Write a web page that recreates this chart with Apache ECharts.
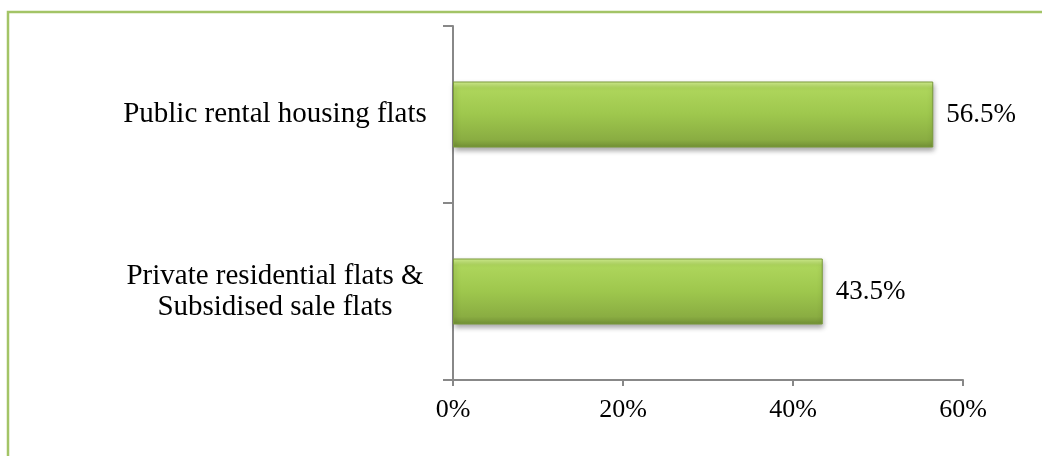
<!DOCTYPE html>
<html>
<head>
<meta charset="utf-8">
<script src="https://cdn.jsdelivr.net/npm/echarts@6/dist/echarts.min.js"></script>
<style>
  html, body { margin: 0; padding: 0; background: #ffffff; }
  #chart { width: 1042px; height: 456px; }
</style>
</head>
<body>
<div id="chart"></div>
<script>
// Share of households by type of housing
const categories = ['Public rental housing flats', 'Private residential flats &\nSubsidised sale flats'];
const shares = [56.5, 43.5];
const xTicks = { min: 0, max: 60, interval: 20 };

const FONT = 'Liberation Serif';
const chart = echarts.init(document.getElementById('chart'), null, { renderer: 'canvas' });

const barFill = new echarts.graphic.LinearGradient(0, 0, 0, 1, [
  { offset: 0, color: '#d6f394' },
  { offset: 0.1, color: '#aed65c' },
  { offset: 0.5, color: '#9ec74d' },
  { offset: 0.88, color: '#8aad42' },
  { offset: 1, color: '#718f35' }
]);

chart.setOption({
  backgroundColor: '#ffffff',
  animation: false,
  graphic: [{
    type: 'rect',
    shape: { x: 8, y: 12, width: 1200, height: 600 },
    style: { fill: 'none', stroke: '#a3c466', lineWidth: 2.5 },
    silent: true,
    z: -1
  }],
  grid: { left: 453, right: 79, top: 26, bottom: 76 },
  xAxis: {
    type: 'value',
    min: xTicks.min,
    max: xTicks.max,
    interval: xTicks.interval,
    splitLine: { show: false },
    axisLine: { show: true, lineStyle: { color: '#888888', width: 2 } },
    axisTick: { show: true, length: 6, lineStyle: { color: '#888888', width: 2 } },
    axisLabel: {
      formatter: '{value}%',
      color: '#000000',
      fontFamily: FONT,
      fontSize: 26,
      margin: 17
    }
  },
  yAxis: {
    type: 'category',
    data: categories,
    inverse: true,
    axisLine: { show: true, lineStyle: { color: '#888888', width: 2 } },
    axisTick: { show: true, length: 10, lineStyle: { color: '#888888', width: 2 } },
    axisLabel: {
      color: '#000000',
      fontFamily: FONT,
      fontSize: 29,
      lineHeight: 31,
      align: 'center',
      margin: 178
    }
  },
  series: [{
    type: 'bar',
    data: shares,
    barWidth: 66,
    itemStyle: {
      color: barFill,
      borderColor: '#7a9a3a',
      borderWidth: 1,
      shadowColor: 'rgba(0,0,0,0.35)',
      shadowBlur: 5,
      shadowOffsetY: 3,
      shadowOffsetX: 1
    },
    label: {
      show: true,
      position: 'right',
      distance: 13,
      formatter: p => p.value.toFixed(1) + '%',
      color: '#000000',
      fontFamily: FONT,
      fontSize: 27
    }
  }]
});
</script>
</body>
</html>
